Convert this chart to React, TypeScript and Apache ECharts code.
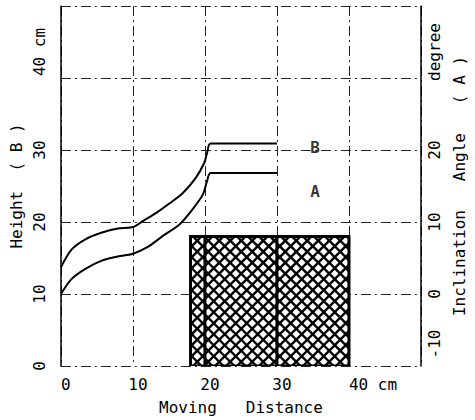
import React, { useEffect, useRef } from "react";
import * as echarts from "echarts";

// Moving distance (cm) vs height (cm) for curve B
const bDistance = [0, 1.5, 3.4, 5.6, 7.9, 10.0, 11.5, 13.3, 15.1, 16.9, 18.7, 19.9, 20.3, 20.8, 30.0];
const bHeight = [13.7, 16.2, 17.6, 18.5, 19.1, 19.3, 20.2, 21.3, 22.6, 24.0, 26.1, 28.2, 29.6, 30.9, 30.9];
// Curve A (plotted on the left-axis scale; right axis = left - 10)
const aDistance = [0, 1.5, 3.4, 5.6, 7.9, 10.0, 12.0, 14.2, 16.5, 18.3, 19.7, 20.3, 20.8, 30.0];
const aHeight = [10.0, 12.1, 13.5, 14.6, 15.2, 15.6, 16.5, 18.1, 19.7, 21.8, 23.8, 25.7, 26.8, 26.8];
// Hatched block: [xStart, xEnd, yBottom, yTop]
const blockX = [18, 40];
const blockY = [0, 18];
const blockDividers = [20, 30];
// Curve labels
const curveNames = ["B", "A"];
const curveLabelX = [35.3, 35.3];
const curveLabelY = [30.3, 24.2];
// Ticks
const xTicks = [0, 10, 20, 30, 40, 50];
const leftTicks = [0, 10, 20, 30, 40, 50];
const rightTicks = [-10, 0, 10, 20, 30, 40];

const FONT = "DejaVu Sans Mono";
const FS = 16;
const DASHDOT = [10, 4, 2, 4];

export default function App() {
  const ref = useRef<HTMLDivElement>(null);
  useEffect(() => {
    if (!ref.current) return;
    const chart = echarts.init(ref.current, undefined, { renderer: "svg" });
    const gridLine = { show: true, lineStyle: { color: "#222", width: 1, type: DASHDOT } };
    const txt = { fontFamily: FONT, fontSize: FS, color: "#000" };
    const option: any = {
      animation: false,
      backgroundColor: "#fff",
      textStyle: { fontFamily: FONT, color: "#000" },
      grid: { left: 57, right: 50, top: 6, bottom: 52, containLabel: false },
      xAxis: {
        type: "value",
        min: xTicks[0],
        max: xTicks[xTicks.length - 1],
        interval: 10,
        axisLine: { show: false },
        axisTick: { show: false },
        splitLine: gridLine,
        name: "Moving   Distance",
        nameLocation: "middle",
        nameGap: 33,
        nameTextStyle: txt,
        axisLabel: {
          margin: 10,
          ...txt,
          formatter: (v: number) => (v === 40 ? "{c|40 cm}" : v === 50 ? "" : "{n|" + v + "}"),
          rich: {
            n: { ...txt, padding: [0, 0, 0, 10] },
            c: { ...txt, padding: [0, 0, 0, 48] },
          },
        },
      },
      yAxis: [
        {
          type: "value",
          min: leftTicks[0],
          max: leftTicks[leftTicks.length - 1],
          interval: 10,
          position: "left",
          axisLine: { show: true, lineStyle: { color: "#000", width: 1.5 } },
          axisTick: { show: false },
          splitLine: gridLine,
          name: "Height  ( B )",
          nameLocation: "middle",
          nameRotate: 90,
          nameGap: 32,
          nameTextStyle: txt,
          axisLabel: {
            rotate: 90,
            margin: 13,
            ...txt,
            formatter: (v: number) => (v === 40 ? "{c|40 cm}" : v === 50 ? "" : "{n|" + v + "}"),
            rich: {
              n: { ...txt },
              c: { ...txt, padding: [0, 0, 0, 52] },
            },
          },
        },
        {
          type: "value",
          min: rightTicks[0],
          max: rightTicks[rightTicks.length - 1],
          interval: 10,
          position: "right",
          axisLine: { show: true, lineStyle: { color: "#000", width: 1.5 } },
          axisTick: { show: false },
          splitLine: { show: false },
          name: "Inclination   Angle   ( A )",
          nameLocation: "middle",
          nameRotate: 90,
          nameGap: 30,
          nameTextStyle: txt,
          axisLabel: {
            rotate: 90,
            margin: 5,
            ...txt,
            formatter: (v: number) =>
              v === -10 ? "{s|-10}" : v === 30 ? "{u|degree}" : v === 40 ? "" : "{n|" + v + "}",
            rich: {
              n: { ...txt },
              s: { ...txt, padding: [0, 0, 0, 44] },
              u: { ...txt, padding: [0, 0, 0, 52] },
            },
          },
        },
      ],
      series: [
        {
          type: "custom",
          yAxisIndex: 0,
          silent: true,
          clip: true,
          data: [[blockX[0], blockX[1], blockY[0], blockY[1]]],
          renderItem: (params: any, api: any) => {
            const tl = api.coord([api.value(0), api.value(3)]);
            const br = api.coord([api.value(1), api.value(2)]);
            const L = tl[0], T = tl[1], R = br[0], B = br[1];
            const children: any[] = [];
            children.push({ type: "rect", shape: { x: L, y: T, width: R - L, height: B - T }, style: { fill: "#fff" } });
            const step = 11;
            const lw = 2.4;
            // lines y = x - c (down-right)
            for (let c = L - B - step; c <= R - T + step; c += step) {
              const xa = Math.max(L, T + c);
              const xb = Math.min(R, B + c);
              if (xb > xa) children.push({ type: "line", shape: { x1: xa, y1: xa - c, x2: xb, y2: xb - c }, style: { stroke: "#000", lineWidth: lw } });
            }
            // lines y = c - x (up-right)
            for (let c = L + T - step; c <= R + B + step; c += step) {
              const xa = Math.max(L, c - B);
              const xb = Math.min(R, c - T);
              if (xb > xa) children.push({ type: "line", shape: { x1: xa, y1: c - xa, x2: xb, y2: c - xb }, style: { stroke: "#000", lineWidth: lw } });
            }
            blockDividers.forEach((d) => {
              const p = api.coord([d, api.value(2)]);
              children.push({ type: "line", shape: { x1: p[0], y1: T, x2: p[0], y2: B }, style: { stroke: "#000", lineWidth: 3 } });
            });
            children.push({ type: "rect", shape: { x: L, y: T, width: R - L, height: B - T }, style: { fill: "none", stroke: "#000", lineWidth: 3 } });
            return { type: "group", children };
          },
        },
        {
          type: "line",
          name: "B",
          yAxisIndex: 0,
          data: bDistance.map((x, i) => [x, bHeight[i]]),
          showSymbol: false,
          smooth: 0.3,
          lineStyle: { color: "#000", width: 2 },
        },
        {
          type: "line",
          name: "A",
          yAxisIndex: 0,
          data: aDistance.map((x, i) => [x, aHeight[i]]),
          showSymbol: false,
          smooth: 0.3,
          lineStyle: { color: "#000", width: 2 },
        },
        {
          type: "scatter",
          yAxisIndex: 0,
          symbolSize: 0,
          data: curveNames.map((n, i) => ({ name: n, value: [curveLabelX[i], curveLabelY[i]] })),
          label: {
            show: true,
            position: "inside",
            formatter: (p: any) => p.name,
            fontFamily: FONT,
            fontSize: FS,
            fontWeight: "bold",
            color: "#000",
          },
        },
      ],
    };
    chart.setOption(option);
    return () => chart.dispose();
  }, []);
  return (
    <div
      ref={ref}
      style={{ position: "fixed", left: 0, top: 0, width: 475, height: 420, background: "#fff" }}
    />
  );
}
